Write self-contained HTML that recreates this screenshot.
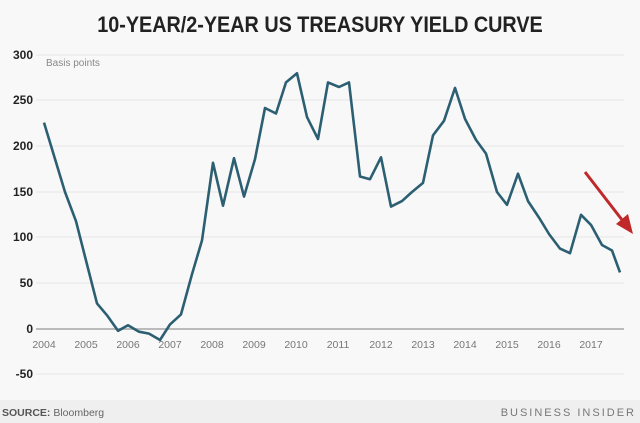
<!DOCTYPE html>
<html><head><style>
body{margin:0;background:#fff;}
svg{display:block;font-family:"Liberation Sans",sans-serif;}
</style></head><body>
<svg width="640" height="423" viewBox="0 0 640 423">
<rect width="640" height="423" fill="#f8f8f8"/>
<rect y="400" width="640" height="23" fill="#efefef"/>
<text x="320" y="32" text-anchor="middle" font-size="22" font-weight="bold" fill="#222" transform="translate(320 0) scale(0.9 1) translate(-320 0)">10-YEAR/2-YEAR US TREASURY YIELD CURVE</text>
<g stroke="#e6e6e6" stroke-width="1">
<line x1="36" x2="624" y1="55" y2="55"/><line x1="36" x2="624" y1="100" y2="100"/>
<line x1="36" x2="624" y1="146" y2="146"/><line x1="36" x2="624" y1="192" y2="192"/>
<line x1="36" x2="624" y1="237" y2="237"/><line x1="36" x2="624" y1="283" y2="283"/>
<line x1="36" x2="624" y1="374" y2="374"/>
</g>
<line x1="36" x2="624" y1="329" y2="329" stroke="#bbb" stroke-width="2"/>
<g font-size="12" font-weight="bold" fill="#222" text-anchor="end">
<text x="33" y="59">300</text><text x="33" y="104">250</text><text x="33" y="150">200</text>
<text x="33" y="196">150</text><text x="33" y="241">100</text><text x="33" y="287">50</text>
<text x="33" y="333">0</text><text x="33" y="378">-50</text>
</g>
<text x="46" y="66" font-size="10" fill="#888">Basis points</text>
<g font-size="10.5" fill="#777" text-anchor="middle">
<text x="44" y="348">2004</text><text x="86" y="348">2005</text><text x="128" y="348">2006</text><text x="170" y="348">2007</text><text x="212" y="348">2008</text><text x="254" y="348">2009</text><text x="296" y="348">2010</text><text x="338" y="348">2011</text><text x="381" y="348">2012</text><text x="423" y="348">2013</text><text x="465" y="348">2014</text><text x="507" y="348">2015</text><text x="549" y="348">2016</text><text x="591" y="348">2017</text>
</g>
<polyline fill="none" stroke="#2d5f73" stroke-width="2.6" stroke-linejoin="round" points="44,122.6 65,192 76,221.2 86,260.5 97,303.4 107,315.3 118,330.8 128,325.3 139,331.7 149,333.6 160,340 170,324.4 181,314.4 192,274.2 202,240.4 213,162.8 223,205.7 234,158.2 244,196.6 255,159.1 265,108 276,113.5 286,82.4 297,73.3 307,117.1 318,139 328,82.4 339,87 349,82.4 360,176.5 370,179.2 381,157.3 391,206.6 402,201.1 412,192 423,182.9 433,135.4 444,120.8 455,87.9 465,118.9 476,139.9 486,153.6 497,192 507,204.8 518,173.7 528,201.1 539,217.6 549,234 560,248.6 570,253.2 581,214.8 591,224.9 602,245 612,250.5 620,272.4"/>
<line x1="585" y1="172" x2="626" y2="225" stroke="#c0282a" stroke-width="3"/>
<polygon points="633,234 616,224 628,214" fill="#c0282a"/>
<text x="2" y="416" font-size="10.5" fill="#666"><tspan font-weight="bold" fill="#555">SOURCE:</tspan> Bloomberg</text>
<text x="636" y="416" font-size="11" fill="#777" text-anchor="end" letter-spacing="2">BUSINESS INSIDER</text>
</svg>
</body></html>
